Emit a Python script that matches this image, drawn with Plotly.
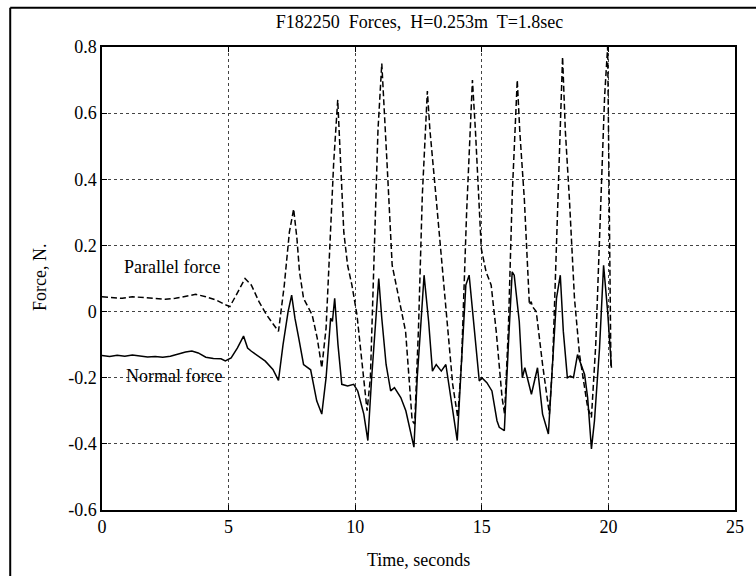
import plotly.graph_objects as go

# ---- data ----
par_t = [0.0, 0.4, 0.8, 1.2, 1.6, 2.0, 2.5, 2.9, 3.3, 3.7, 4.1, 4.5, 4.9, 5.05, 5.3, 5.65, 5.9, 6.2, 6.5, 6.97,
         7.2, 7.4, 7.57, 7.7, 7.8, 7.96, 8.3, 8.5, 8.68, 8.85, 9.0, 9.15, 9.31, 9.42, 9.55, 9.7, 9.87, 10.07,
         10.3, 10.47, 10.6, 10.75, 10.9, 11.05, 11.15, 11.26, 11.46, 11.72, 11.99, 12.25, 12.35, 12.5, 12.65,
         12.85, 12.95, 13.2, 13.43, 13.63, 13.85, 14.05, 14.2, 14.4, 14.63, 14.75, 14.98, 15.17, 15.37, 15.57,
         15.8, 15.9, 16.05, 16.2, 16.4, 16.5, 16.68, 16.88, 16.95, 17.0, 17.15, 17.4, 17.67, 17.8, 17.95, 18.05,
         18.19, 18.3, 18.46, 18.66, 18.86, 19.18, 19.33, 19.5, 19.7, 19.85, 19.97, 20.05, 20.1]
par_f = [0.045, 0.042, 0.040, 0.045, 0.043, 0.040, 0.037, 0.040, 0.047, 0.052, 0.045, 0.035, 0.020, 0.015, 0.050,
         0.100, 0.080, 0.030, -0.010, -0.060, 0.080, 0.240, 0.310, 0.220, 0.120, 0.040, -0.010, -0.080, -0.170,
         -0.050, 0.200, 0.450, 0.640, 0.450, 0.240, 0.140, 0.080, -0.010, -0.180, -0.300, -0.200, 0.200, 0.550,
         0.750, 0.620, 0.445, 0.140, 0.040, -0.060, -0.330, -0.340, -0.050, 0.350, 0.667, 0.550, 0.340, 0.140,
         -0.010, -0.220, -0.320, -0.150, 0.300, 0.700, 0.545, 0.190, 0.120, 0.080, -0.060, -0.260, -0.310,
         -0.050, 0.350, 0.700, 0.545, 0.340, 0.020, 0.030, 0.015, 0.000, -0.160, -0.310, -0.150, 0.200, 0.500,
         0.770, 0.545, 0.340, 0.040, -0.130, -0.290, -0.320, -0.100, 0.300, 0.650, 0.800, 0.300, -0.170]

nor_t = [0.0, 0.3, 0.6, 0.9, 1.2, 1.5, 1.8, 2.1, 2.4, 2.7, 3.0, 3.3, 3.55, 3.8, 4.1, 4.4, 4.7, 4.87, 5.1, 5.35,
         5.59, 5.75, 5.9, 6.2, 6.45, 6.75, 6.97, 7.15, 7.35, 7.49, 7.62, 7.77, 7.96, 8.24, 8.48, 8.68, 8.85,
         9.03, 9.1, 9.19, 9.32, 9.47, 9.7, 9.94, 10.1, 10.34, 10.5, 10.65, 10.8, 10.93, 11.05, 11.22, 11.4,
         11.55, 11.8, 12.0, 12.32, 12.45, 12.6, 12.72, 12.9, 13.05, 13.2, 13.4, 13.58, 13.78, 14.03, 14.2,
         14.37, 14.5, 14.7, 14.9, 15.0, 15.2, 15.4, 15.6, 15.69, 15.89, 16.05, 16.2, 16.28, 16.48, 16.6, 16.7,
         16.96, 17.2, 17.4, 17.63, 17.8, 17.95, 18.1, 18.22, 18.38, 18.5, 18.62, 18.78, 19.06, 19.18, 19.33,
         19.45, 19.65, 19.81, 19.97, 20.12]
nor_f = [-0.133, -0.136, -0.132, -0.135, -0.131, -0.135, -0.137, -0.136, -0.138, -0.135, -0.128, -0.122, -0.119,
         -0.125, -0.138, -0.142, -0.143, -0.149, -0.140, -0.110, -0.074, -0.110, -0.120, -0.135, -0.150, -0.175,
         -0.208, -0.100, 0.000, 0.050, -0.020, -0.080, -0.160, -0.176, -0.270, -0.310, -0.200, -0.020, -0.030,
         0.040, -0.100, -0.220, -0.225, -0.220, -0.240, -0.310, -0.390, -0.200, -0.030, 0.100, -0.020, -0.160,
         -0.240, -0.230, -0.260, -0.300, -0.410, -0.200, -0.030, 0.110, -0.030, -0.180, -0.160, -0.180, -0.160,
         -0.260, -0.390, -0.150, 0.080, 0.110, -0.040, -0.210, -0.200, -0.215, -0.240, -0.330, -0.350, -0.360,
         -0.100, 0.120, 0.110, -0.030, -0.200, -0.170, -0.250, -0.170, -0.310, -0.370, -0.150, 0.040, 0.110,
         -0.060, -0.200, -0.195, -0.200, -0.130, -0.190, -0.260, -0.415, -0.330, -0.110, 0.140, 0.000, -0.170]

x_ticks = [0, 5, 10, 15, 20, 25]
y_ticks = [-0.6, -0.4, -0.2, 0, 0.2, 0.4, 0.6, 0.8]
y_tick_text = ["-0.6", "-0.4", "-0.2", "0", "0.2", "0.4", "0.6", "0.8"]

title_text = "F182250\u00a0 Forces,\u00a0 H=0.253m\u00a0 T=1.8sec"
FONT = "Liberation Serif, Times New Roman, serif"
FS = 18

fig = go.Figure()
fig.add_trace(go.Scatter(x=par_t, y=par_f, mode="lines", name="Parallel force",
                         line=dict(color="black", width=1.5, dash="6px,3px")))
fig.add_trace(go.Scatter(x=nor_t, y=nor_f, mode="lines", name="Normal force",
                         line=dict(color="black", width=1.5)))

fig.add_annotation(x=2.76, y=0.136, text="Parallel force", showarrow=False,
                   font=dict(family=FONT, size=FS, color="black"))
fig.add_annotation(x=2.85, y=-0.196, text="Normal force", showarrow=False,
                   font=dict(family=FONT, size=FS, color="black"))

# axis titles placed as annotations
fig.add_annotation(xref="paper", yref="paper", x=0.5, y=-0.108, text="Time, seconds", showarrow=False,
                   xanchor="center", yanchor="middle", font=dict(family=FONT, size=FS, color="black"))
fig.add_annotation(xref="paper", yref="paper", x=-0.098, y=0.503, text="Force, N.", showarrow=False,
                   textangle=-90, xanchor="center", yanchor="middle",
                   font=dict(family=FONT, size=FS, color="black"))

axis_common = dict(showline=True, linecolor="black", linewidth=1.5, mirror="ticks",
                   ticks="inside", ticklen=5, tickcolor="black", tickwidth=1,
                   showgrid=True, gridcolor="#444444", gridwidth=1, griddash="dot",
                   zeroline=False, tickfont=dict(family=FONT, size=FS, color="black"))

fig.update_xaxes(range=[0, 25], tickvals=x_ticks, ticktext=[str(v) for v in x_ticks], **axis_common)
fig.update_yaxes(range=[-0.6, 0.8], tickvals=y_ticks, ticktext=y_tick_text, **axis_common)

# outer figure frame (left and top edges visible)
fig.add_shape(type="line", xref="paper", yref="paper", x0=-0.145, x1=-0.145, y0=1.085, y1=-0.3,
              line=dict(color="black", width=2))
fig.add_shape(type="line", xref="paper", yref="paper", x0=-0.145, x1=1.2, y0=1.085, y1=1.085,
              line=dict(color="black", width=2))

fig.update_layout(
    width=756, height=576,
    margin=dict(l=102, r=21, t=47, b=66),
    paper_bgcolor="white", plot_bgcolor="white",
    showlegend=False,
    title=dict(text=title_text, x=0.555, xanchor="center", y=0.962, yanchor="middle",
               font=dict(family=FONT, size=FS, color="black")),
)

fig.write_html("out.html")
